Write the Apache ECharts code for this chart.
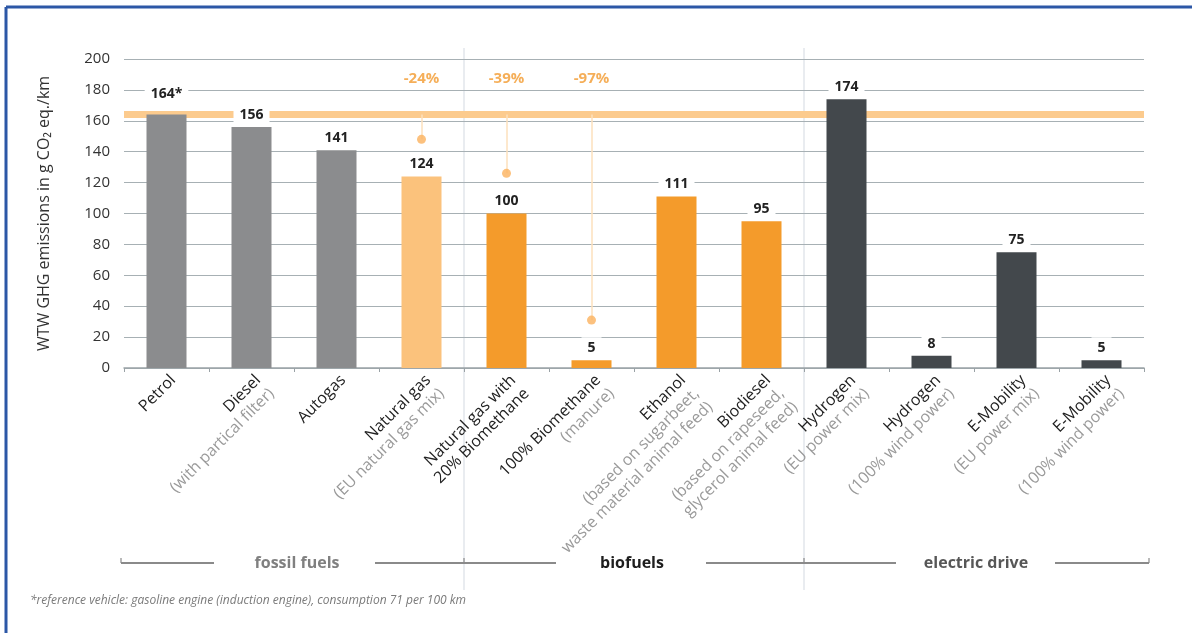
<!DOCTYPE html>
<html>
<head>
<meta charset="utf-8">
<script src="https://cdn.jsdelivr.net/npm/echarts@6/dist/echarts.min.js"></script>
<style>
  html, body { margin: 0; padding: 0; background: #fff; }
  #chart { width: 1192px; height: 633px; }
</style>
</head>
<body>
<div id="chart"></div>
<script>
// 数据
const categories = ['Petrol', 'Diesel', 'Autogas', 'Natural gas', 'Natural gas 20%', 'Biomethane',
  'Ethanol', 'Biodiesel', 'Hydrogen EU', 'Hydrogen wind', 'E-Mobility EU', 'E-Mobility wind'];
const mainLines = [['Petrol'], ['Diesel'], ['Autogas'], ['Natural gas'], ['Natural gas with', '20% Biomethane'],
  ['100% Biomethane'], ['Ethanol'], ['Biodiesel'], ['Hydrogen'], ['Hydrogen'], ['E-Mobility'], ['E-Mobility']];
const subLines = [[], ['(with partical filter)'], [], ['(EU natural gas mix)'], [], ['(manure)'],
  ['(based on sugarbeet,', 'waste material animal feed)'], ['(based on rapeseed,', 'glycerol animal feed)'],
  ['(EU power mix)'], ['(100% wind power)'], ['(EU power mix)'], ['(100% wind power)']];
const kinds = ['fossil', 'fossil', 'fossil', 'natgas', 'bio', 'bio', 'bio', 'bio', 'electric', 'electric', 'electric', 'electric'];
const emissions = [164, 156, 141, 124, 100, 5, 111, 95, 174, 8, 75, 5];
const notes = ['*', '', '', '', '', '', '', '', '', '', '', ''];
const reductionDots = [null, null, null, 148, 126, 31, null, null, null, null, null, null];
const reductionLabels = ['', '', '', '-24%', '-39%', '-97%', '', '', '', '', '', ''];
const referenceValue = 164;
const yTicks = { min: 0, max: 200, interval: 20 };

const kindColor = { fossil: '#8b8c8e', natgas: '#fbc27c', bio: '#f49b2b', electric: '#43484c' };
const FONT = '"Open Sans", "Noto Sans", sans-serif';
const PCT_ROW = 187; // 百分比标签所在高度

const chart = echarts.init(document.getElementById('chart'));

const xLabel = (v, i) => {
  const m = mainLines[i].map(t => `{m|${t}}`);
  const s = subLines[i].map(t => `{s|${t}}`);
  return m.concat(s).join('\n');
};

chart.setOption({
  backgroundColor: '#fff',
  animation: false,
  grid: { left: 124, right: 48, top: 59, bottom: 265 },
  xAxis: {
    type: 'category', data: categories,
    axisLine: { lineStyle: { color: '#9aa2a6', width: 1.5 } },
    axisTick: { show: true, length: 4, lineStyle: { color: '#9aa2a6' } },
    axisLabel: {
      interval: 0, rotate: 45, margin: 3, verticalAlign: 'top',
      formatter: xLabel,
      rich: {
        m: { color: '#222', fontSize: 16, lineHeight: 19, fontFamily: FONT },
        s: { color: '#9a9a9a', fontSize: 16, lineHeight: 19, fontFamily: FONT }
      }
    }
  },
  yAxis: {
    type: 'value', min: yTicks.min, max: yTicks.max, interval: yTicks.interval,
    name: 'WTW GHG emissions in g CO\u2082 eq./km',
    nameLocation: 'middle', nameGap: 72,
    nameTextStyle: { color: '#333', fontSize: 16, fontFamily: FONT },
    axisLine: { show: false },
    axisTick: { show: false },
    axisLabel: { color: '#333', fontSize: 15, margin: 14, fontFamily: FONT },
    splitLine: { lineStyle: { color: '#a7b0b4', width: 1.2 } }
  },
  series: [
    {
      // 参考线 164
      type: 'line', data: [], z: 1, silent: true,
      markLine: {
        z: 1, symbol: 'none', silent: true, label: { show: false },
        lineStyle: { color: '#fccb8e', width: 7, type: 'solid' },
        data: [{ yAxis: referenceValue }]
      }
    },
    {
      type: 'scatter', z: 3, symbolSize: 9,
      itemStyle: { color: '#fbb25e' },
      data: reductionDots,
      markLine: {
        z: 3, symbol: 'none', silent: true, label: { show: false },
        lineStyle: { color: '#fde0bd', width: 1.5, type: 'solid' },
        data: reductionDots.map((v, i) => v == null ? null :
          [{ coord: [i, referenceValue] }, { coord: [i, v] }]).filter(Boolean)
      }
    },
    {
      type: 'bar', barWidth: 40, z: 10,
      data: emissions.map((v, i) => ({
        value: v,
        itemStyle: { color: kindColor[kinds[i]] },
        label: { distance: notes[i] ? 12 : 3 }
      })),
      label: {
        show: true, position: 'top',
        formatter: p => p.value + notes[p.dataIndex],
        color: '#222', fontSize: 14, fontWeight: 'bold', fontFamily: FONT,
        backgroundColor: '#fff', padding: [4, 6, 2, 6]
      }
    },
    {
      type: 'scatter', z: 11, symbolSize: 0, silent: true,
      data: reductionLabels.map(t => t ? PCT_ROW : null),
      label: {
        show: true, position: 'inside',
        formatter: p => reductionLabels[p.dataIndex],
        color: '#f39a2e', fontSize: 15, fontWeight: 'bold', fontFamily: FONT,
        backgroundColor: '#fff', padding: [3, 8]
      }
    }
  ]
});

// 分组分隔线 + 底部分组标注
const px = i => chart.convertToPixel({ xAxisIndex: 0 }, categories[i]);
const sep1 = (px(3) + px(4)) / 2;
const sep2 = (px(7) + px(8)) / 2;
const bandY = 563;
const lineStyle = { stroke: '#8a8a8a', lineWidth: 2.2 };
const seg = (x1, x2) => ({ type: 'line', shape: { x1, y1: bandY, x2, y2: bandY }, style: lineStyle, silent: true });
const tick = x => ({ type: 'line', shape: { x1: x, y1: bandY - 5, x2: x, y2: bandY }, style: { stroke: '#8a8a8a', lineWidth: 1.2 }, silent: true });
const bandText = (text, x, fill) => ({
  type: 'text', x, y: bandY, silent: true,
  style: { text, fill, font: 'bold 16px ' + FONT, align: 'center', verticalAlign: 'middle' }
});

chart.setOption({
  graphic: [
    { type: 'line', shape: { x1: sep1, y1: 48, x2: sep1, y2: 590 }, style: { stroke: '#d3d9e1', lineWidth: 1 }, silent: true, z: -1 },
    { type: 'line', shape: { x1: sep2, y1: 48, x2: sep2, y2: 590 }, style: { stroke: '#d3d9e1', lineWidth: 1 }, silent: true, z: -1 },
    seg(121, 214), tick(121),
    seg(375, sep1 + 92), tick(sep1),
    seg(sep2 - 98, 896), tick(sep2),
    seg(1055, 1149), tick(1149),
    bandText('fossil fuels', 297, '#808080'),
    bandText('biofuels', 632, '#1e1e1e'),
    bandText('electric drive', 976, '#575757'),
    {
      type: 'text', x: 30, y: 601, silent: true,
      style: {
        text: '*reference vehicle: gasoline engine (induction engine), consumption 71 per 100 km',
        fill: '#7a7a7a', font: 'italic 12px ' + FONT, verticalAlign: 'middle'
      }
    },
    // 蓝色边框
    { type: 'line', shape: { x1: 6, y1: 7, x2: 1192, y2: 7 }, style: { stroke: '#2c57a6', lineWidth: 3 }, silent: true },
    { type: 'line', shape: { x1: 6, y1: 7, x2: 6, y2: 633 }, style: { stroke: '#2c57a6', lineWidth: 3 }, silent: true }
  ]
});

window.addEventListener('resize', () => chart.resize());
</script>
</body>
</html>
